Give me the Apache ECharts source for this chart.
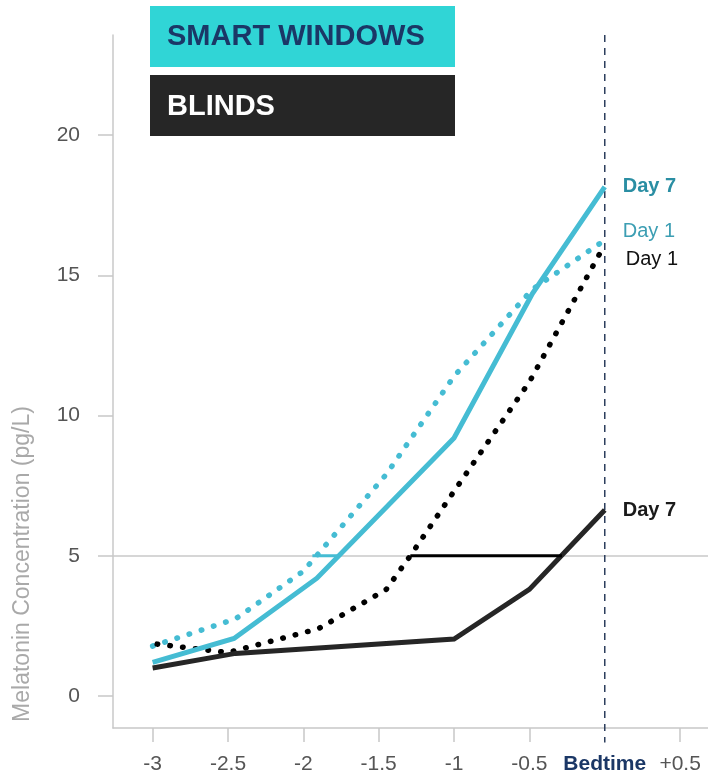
<!DOCTYPE html>
<html>
<head>
<meta charset="utf-8">
<script src="https://cdn.jsdelivr.net/npm/echarts@6/dist/echarts.min.js"></script>
<style>
html,body{margin:0;padding:0;background:#fff;}
#c{width:708px;height:779px;}
</style>
</head>
<body>
<div id="c"></div>
<script>
// ---- data ----
const xTicks = [-3, -2.5, -2, -1.5, -1, -0.5, 0, 0.5];
const yTicks = [0, 5, 10, 15, 20];

const windowsDay7X = [-3, -2.46, -1.91, -1.0, -0.48, 0];
const windowsDay7Y = [1.2, 2.05, 4.2, 9.2, 14.35, 18.15];

const windowsDay1X = [-3, -2.45, -2.0, -1.45, -1.0, -0.48, 0];
const windowsDay1Y = [1.78, 2.75, 4.45, 7.9, 11.4, 14.5, 16.25];

const blindsDay1X = [-2.97, -2.5, -1.9, -1.45, -1.29, -1.0, -0.5, 0];
const blindsDay1Y = [1.85, 1.55, 2.4, 3.8, 5.0, 7.3, 11.2, 16.1];

const blindsDay7X = [-3, -2.45, -1.0, -0.5, 0];
const blindsDay7Y = [1.0, 1.52, 2.03, 3.8, 6.63];

const threshold = 5;
const windowsGapX = [-1.94, -1.765];
const blindsGapX = [-1.29, -0.284];

const pairs = (xs, ys) => xs.map((x, i) => [x, ys[i]]);

const FONT = '"Liberation Sans", Arial, Helvetica, sans-serif';
const CYAN = '#45bcd3';
const NAVY = '#1b3766';
const AXIS = '#c8c8c8';

const chart = echarts.init(document.getElementById('c'), null, {renderer: 'canvas'});

chart.setOption({
  animation: false,
  backgroundColor: '#fff',
  textStyle: {fontFamily: FONT},
  grid: {left: 113, right: 0, top: 35, bottom: 51, containLabel: false},
  xAxis: {
    type: 'value',
    min: -3.263,
    max: 0.685,
    axisLine: {show: true, onZero: false, lineStyle: {color: AXIS, width: 1.5}},
    axisTick: {show: true, length: 14, lineStyle: {color: AXIS, width: 1.5},
      customValues: xTicks.filter(v => v !== 0)},
    splitLine: {show: false},
    axisLabel: {
      customValues: xTicks,
      margin: 26,
      fontSize: 21,
      color: '#555',
      fontFamily: FONT,
      formatter: function (v) {
        if (v === 0) return '{b|Bedtime}';
        if (v > 0) return '+' + v;
        return String(v);
      },
      rich: {b: {fontSize: 21, fontWeight: 'bold', color: NAVY, fontFamily: FONT}}
    }
  },
  yAxis: {
    type: 'value',
    min: -1.14,
    max: 23.565,
    axisLine: {show: true, onZero: false, lineStyle: {color: AXIS, width: 1.5}},
    axisTick: {show: true, length: 15, lineStyle: {color: AXIS, width: 1.5}, customValues: yTicks},
    splitLine: {show: false},
    axisLabel: {customValues: yTicks, margin: 33, fontSize: 21, color: '#555', fontFamily: FONT}
  },
  graphic: [
    {type: 'rect', shape: {x: 150, y: 6, width: 305, height: 61}, style: {fill: '#30d5d6'}, z: 10},
    {type: 'text', x: 167, y: 37, z: 11, style: {text: 'SMART WINDOWS', fill: NAVY,
      font: 'bold 29px ' + FONT, textAlign: 'left', textVerticalAlign: 'middle'}},
    {type: 'rect', shape: {x: 150, y: 75, width: 305, height: 61}, style: {fill: '#262626'}, z: 10},
    {type: 'text', x: 167, y: 107, z: 11, style: {text: 'BLINDS', fill: '#ffffff',
      font: 'bold 29px ' + FONT, textAlign: 'left', textVerticalAlign: 'middle'}},
    {type: 'text', x: 23, y: 564, rotation: Math.PI / 2, z: 11, style: {
      text: 'Melatonin Concentration (pg/L)', fill: '#a9a9a9',
      font: '23px ' + FONT, textAlign: 'center', textVerticalAlign: 'middle'}}
  ],
  series: [
    {
      name: 'ref', type: 'line', data: [], z: 1, silent: true,
      markLine: {silent: true, z: 1, symbol: ['none', 'none'], label: {show: false},
        lineStyle: {color: AXIS, width: 1.5, type: 'solid'},
        data: [{yAxis: threshold}]}
    },
    {
      name: 'bedtime', type: 'line', z: 2, silent: true, clip: false, showSymbol: false, symbol: 'none',
      data: [[0, 23.565], [0, -1.66]],
      lineStyle: {color: '#2c3e5c', width: 1.5, type: [7, 6]}
    },
    {
      name: 'Windows Day 1', type: 'line', z: 6, symbol: 'none', data: pairs(windowsDay1X, windowsDay1Y),
      lineStyle: {color: CYAN, width: 5.5, type: [0.5, 12.3], cap: 'round'},
      endLabel: {show: true, formatter: 'Day 1', position: 'right', distance: 18, offset: [0, -9],
        fontSize: 20, color: '#3c9eb3', fontFamily: FONT}
    },
    {
      name: 'Blinds Day 1', type: 'line', z: 6, symbol: 'none', data: pairs(blindsDay1X, blindsDay1Y),
      lineStyle: {color: '#000', width: 5.5, type: [0.5, 12.3], cap: 'round'},
      endLabel: {show: true, formatter: 'Day 1', position: 'right', distance: 21, offset: [0, 15],
        fontSize: 20, color: '#111', fontFamily: FONT}
    },
    {
      name: 'Windows Day 7', type: 'line', z: 7, symbol: 'none', data: pairs(windowsDay7X, windowsDay7Y),
      lineStyle: {color: CYAN, width: 5, cap: 'butt', join: 'miter'},
      endLabel: {show: true, formatter: 'Day 7', position: 'right', distance: 18,
        fontSize: 20, fontWeight: 'bold', color: '#2a8ea3', fontFamily: FONT}
    },
    {
      name: 'Blinds Day 7', type: 'line', z: 7, symbol: 'none', data: pairs(blindsDay7X, blindsDay7Y),
      lineStyle: {color: '#262626', width: 5, cap: 'butt', join: 'miter'},
      endLabel: {show: true, formatter: 'Day 7', position: 'right', distance: 18,
        fontSize: 20, fontWeight: 'bold', color: '#1a1a1a', fontFamily: FONT}
    },
    {
      name: 'Windows gap', type: 'line', z: 7, symbol: 'none',
      data: windowsGapX.map(x => [x, threshold]),
      lineStyle: {color: CYAN, width: 3}
    },
    {
      name: 'Blinds gap', type: 'line', z: 7, symbol: 'none',
      data: blindsGapX.map(x => [x, threshold]),
      lineStyle: {color: '#000', width: 3}
    }
  ]
});
</script>
</body>
</html>
